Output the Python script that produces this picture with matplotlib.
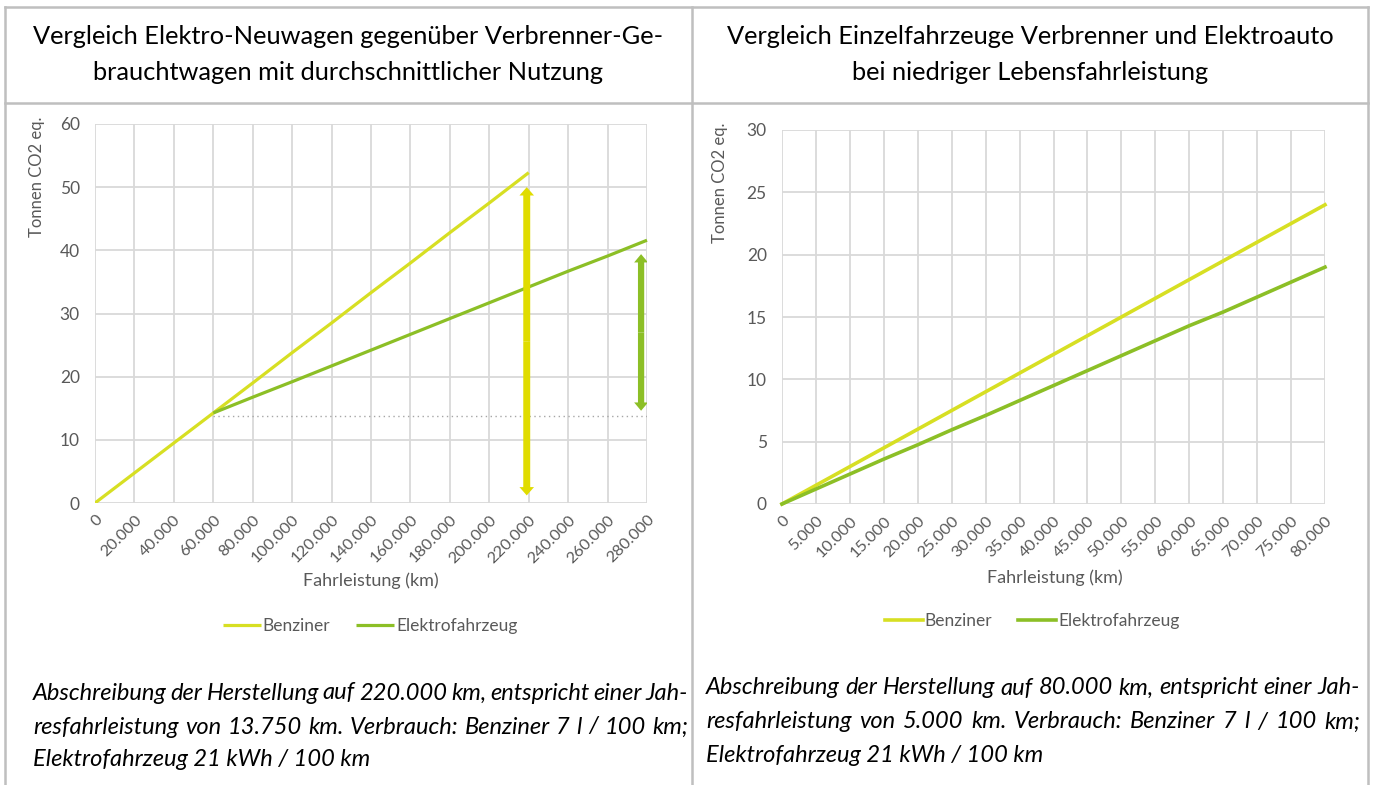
import numpy as np
import matplotlib
matplotlib.use("Agg")
import matplotlib.pyplot as plt
from matplotlib.lines import Line2D
from matplotlib.patches import FancyArrowPatch, ArrowStyle

W, H = 1373, 785
FONT = "Lato"
GRAY = "#595959"
GRID = "#d9d9d9"
BORDER = "#bfbfbf"
C_BENZ = "#d7df23"
C_ELEK = "#8cbf26"
C_ARROW_Y = "#e0dc00"

# ---- data -------------------------------------------------------------
left_km_benz = [0, 20000, 40000, 60000, 80000, 100000, 120000, 140000,
                160000, 180000, 200000, 220000]
left_benz = [0, 4.75, 9.5, 14.25, 19.0, 23.8, 28.5, 33.3, 38.0, 42.8, 47.5, 52.3]
left_km_elek = [60000, 80000, 100000, 120000, 140000, 160000, 180000,
                200000, 220000, 240000, 260000, 280000]
left_elek = [14.25, 16.75, 19.2, 21.7, 24.2, 26.7, 29.2, 31.7, 34.2, 36.7, 39.1, 41.6]
left_ref_km = [60000, 280000]
left_ref_val = 13.7
arrow_benz = (219000, 1.2, 50.0)   # x, bottom, top
arrow_elek = (277000, 14.6, 39.4)

right_km = [0, 5000, 10000, 15000, 20000, 25000, 30000, 35000, 40000, 45000,
            50000, 55000, 60000, 65000, 70000, 75000, 80000]
right_benz = [0, 1.5, 3.0, 4.5, 6.0, 7.5, 9.0, 10.5, 12.0, 13.5, 15.0, 16.5,
              18.0, 19.5, 21.0, 22.5, 24.0]
right_elek = [0, 1.2, 2.4, 3.6, 4.75, 5.95, 7.1, 8.3, 9.5, 10.7, 11.9, 13.1,
              14.3, 15.4, 16.6, 17.8, 19.0]

headers = [
    ["Vergleich Elektro-Neuwagen gegenüber Verbrenner-Ge-",
     "brauchtwagen mit durchschnittlicher Nutzung"],
    ["Vergleich Einzelfahrzeuge Verbrenner und Elektroauto",
     "bei niedriger Lebensfahrleistung"],
]
captions = [
    ["Abschreibung der Herstellung auf 220.000 km, entspricht einer Jah-",
     "resfahrleistung von 13.750 km. Verbrauch: Benziner 7 l / 100 km;",
     "Elektrofahrzeug 21 kWh / 100 km"],
    ["Abschreibung der Herstellung auf 80.000 km, entspricht einer Jah-",
     "resfahrleistung von 5.000 km. Verbrauch: Benziner 7 l / 100 km;",
     "Elektrofahrzeug 21 kWh / 100 km"],
]

plt.rcParams["font.family"] = [FONT, "DejaVu Sans"]

fig = plt.figure(figsize=(W / 100, H / 100), dpi=100)


def fx(x):
    return x / W


def fy(y):
    return 1 - y / H


def hline(x0, x1, y):
    fig.add_artist(Line2D([fx(x0), fx(x1)], [fy(y), fy(y)], color=BORDER, lw=1.8))


def vline(x, y0, y1):
    fig.add_artist(Line2D([fx(x), fx(x)], [fy(y0), fy(y1)], color=BORDER, lw=1.8))


# table borders
hline(5, 1368, 7)
hline(5, 1368, 103)
vline(5, 7, 785)
vline(692, 7, 785)
vline(1368, 7, 785)

# headers
for (cx, lines) in zip([348, 1030], headers):
    for y, line in zip([37, 72], lines):
        fig.text(fx(cx), fy(y), line, ha="center", va="center",
                 fontsize=18.3, color="black")


def justify(words_line, x0, x1, y, **kw):
    r = fig.canvas.get_renderer()
    words = words_line.split(" ")
    texts = [fig.text(0, fy(y), w, va="center", ha="left", **kw) for w in words]
    widths = [t.get_window_extent(r).width for t in texts]
    gap = (x1 - x0 - sum(widths)) / max(len(words) - 1, 1)
    x = x0
    for t, w in zip(texts, widths):
        t.set_x(fx(x))
        x += w + gap


cap_kw = dict(fontsize=17, style="italic", color="black")
for (x0, x1, ys, lines) in [(33, 688, [693, 727, 760], captions[0]),
                            (706, 1360, [688, 722, 755], captions[1])]:
    justify(lines[0], x0, x1, ys[0], **cap_kw)
    justify(lines[1], x0, x1, ys[1], **cap_kw)
    fig.text(fx(x0), fy(ys[2]), lines[2], va="center", ha="left", **cap_kw)


def style_axes(ax, xticks, xlabels, yticks):
    ax.set_xticks(xticks)
    ax.set_xticklabels(xlabels, rotation=45, ha="right", va="top",
                       rotation_mode="anchor")
    ax.set_yticks(yticks)
    ax.set_xlim(xticks[0], xticks[-1])
    ax.set_ylim(yticks[0], yticks[-1])
    ax.grid(True, color=GRID, lw=1.3)
    ax.set_axisbelow(True)
    for s in ax.spines.values():
        s.set_visible(False)
    ax.tick_params(length=0, labelsize=12.5, labelcolor=GRAY)
    ax.tick_params(axis="x", pad=7, labelsize=11.8)
    ax.tick_params(axis="y", pad=11)


def fmt_km(v):
    return f"{v:,}".replace(",", ".")


def add_legend(ax, cx, cy):
    ax.legend(loc="center", bbox_to_anchor=(fx(cx), fy(cy)),
              bbox_transform=fig.transFigure, ncol=2, frameon=False,
              fontsize=12.5, labelcolor=GRAY, handlelength=2.2,
              handletextpad=0.1, columnspacing=1.5)


# ---- left chart -------------------------------------------------------
axL = fig.add_axes([fx(95), fy(503), (647 - 95) / W, (503 - 124) / H])
lx = list(range(0, 280001, 20000))
style_axes(axL, lx, [fmt_km(v) for v in lx], list(range(0, 61, 10)))
axL.plot(left_ref_km, [left_ref_val] * 2, color="#a6a6a6", lw=1,
         ls=(0, (1, 2.5)))
axL.plot(left_km_benz, left_benz, color=C_BENZ, lw=2.3, label="Benziner",
         solid_capstyle="butt")
axL.plot(left_km_elek, left_elek, color=C_ELEK, lw=2.3, label="Elektrofahrzeug",
         solid_capstyle="butt", clip_on=False)


def double_arrow(ax, x, y0, y1, color, tail, head_w, head_l):
    mid = (y0 + y1) / 2
    style = ArrowStyle.Simple(head_length=head_l, head_width=head_w,
                              tail_width=tail)
    for end in (y0, y1):
        ax.add_patch(FancyArrowPatch((x, mid), (x, end), arrowstyle=style,
                                     mutation_scale=10, color=color, lw=0,
                                     shrinkA=0, shrinkB=0, zorder=4))


double_arrow(axL, arrow_benz[0], arrow_benz[1], arrow_benz[2], C_ARROW_Y,
             0.5, 1.05, 0.6)
double_arrow(axL, arrow_elek[0], arrow_elek[1], arrow_elek[2], C_ELEK,
             0.45, 1.0, 0.6)

axL.set_xlabel("Fahrleistung (km)", fontsize=13, color=GRAY)
axL.set_ylabel("Tonnen CO2 eq.", fontsize=12, color=GRAY)
axL.yaxis.set_label_coords(fx(45), fy(177), transform=fig.transFigure)
axL.xaxis.set_label_coords(fx(371), fy(572), transform=fig.transFigure)
add_legend(axL, 370, 626)

# ---- right chart ------------------------------------------------------
axR = fig.add_axes([fx(782), fy(504), (1325 - 782) / W, (504 - 130) / H])
rx = list(range(0, 80001, 5000))
style_axes(axR, rx, [fmt_km(v) for v in rx], list(range(0, 31, 5)))
axR.plot(right_km, right_benz, color=C_BENZ, lw=2.6, label="Benziner",
         clip_on=False)
axR.plot(right_km, right_elek, color=C_ELEK, lw=2.6, label="Elektrofahrzeug",
         clip_on=False)
axR.set_xlabel("Fahrleistung (km)", fontsize=13, color=GRAY)
axR.set_ylabel("Tonnen CO2 eq.", fontsize=12, color=GRAY)
axR.yaxis.set_label_coords(fx(728), fy(183), transform=fig.transFigure)
axR.xaxis.set_label_coords(fx(1055), fy(569), transform=fig.transFigure)
add_legend(axR, 1032, 621)

fig.savefig("out.png", dpi=100)
